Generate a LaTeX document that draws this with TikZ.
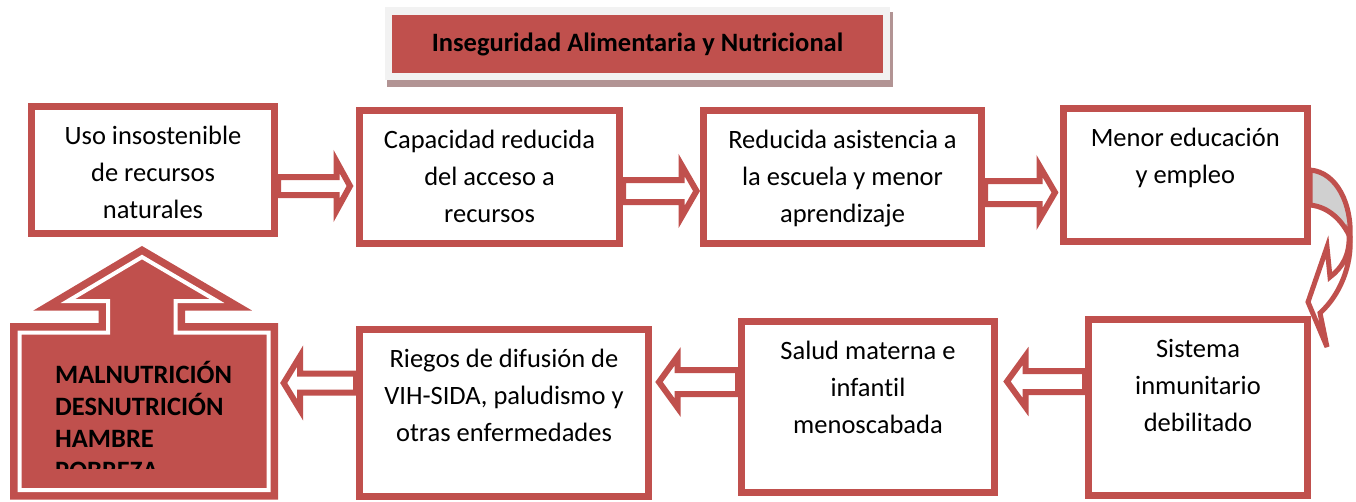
\documentclass[tikz,border=0pt]{standalone}
\usepackage{fontspec}
\setmainfont{Carlito}[Ligatures=NoCommon]
\usetikzlibrary{calc,backgrounds}

\definecolor{boxred}{HTML}{C0504D}
\definecolor{shadowgray}{HTML}{B29494}
\definecolor{framegray}{HTML}{F2F2F2}
\definecolor{backgray}{HTML}{D0D0D0}

\newcommand{\lineas}[1]{\parbox[t]{290pt}{\centering #1}}

% #1 tail, #2 tip, #3 axis (y), #4 shaft half, #5 head half, #6 head length
\newcommand{\blockarrow}[6]{%
  \draw[blockarrow] let \p1=#1, \p2=#2, \p3=(0,#3) in
    (\x1,{\y3+#4pt}) -- ({\x2-(#6pt)},{\y3+#4pt}) -- ({\x2-(#6pt)},{\y3+#5pt}) -- (\x2,\y3)
    -- ({\x2-(#6pt)},{\y3-#5pt}) -- ({\x2-(#6pt)},{\y3-#4pt}) -- (\x1,{\y3-#4pt}) -- cycle;}

\tikzset{
  box/.style={rectangle, draw=boxred, line width=7pt, fill=white, inner sep=0pt},
  boxtext/.style={font=\fontsize{26.5}{37}\selectfont, anchor=base, yshift=-41.5pt, inner sep=0pt},
  blockarrow/.style={draw=boxred, line width=6pt, fill=white, line join=miter},
  titlebox/.style={rectangle, fill=boxred, inner sep=0pt, font=\bfseries\fontsize{26.5}{32}\selectfont},
  curvearrow/.style={draw=boxred, line width=5pt, line join=miter},
}

\begin{document}
\begin{tikzpicture}[x=1pt, y=-1pt]
  \clip (0,0) rectangle (1356,501);

  \fill[shadowgray] (387,12) rectangle (893,87);
  \fill[framegray] (385,7) rectangle (890,80);
  \node (titulo) [titlebox, minimum width=491pt, minimum height=58pt] at (637.5,44) {Inseguridad Alimentaria y Nutricional};

  \node (uso) [box, minimum width=243pt, minimum height=127pt,
    label={[boxtext]north:{\lineas{Uso insostenible\\de recursos\\naturales}}}] at (153,170) {};
  \node (capacidad) [box, minimum width=260pt, minimum height=133pt,
    label={[boxtext]north:{\lineas{Capacidad reducida\\del acceso a\\recursos}}}] at (489.5,176.5) {};
  \node (asistencia) [box, minimum width=278pt, minimum height=133pt,
    label={[boxtext]north:{\lineas{Reducida asistencia a\\la escuela y menor\\aprendizaje}}}] at (842.5,177) {};
  \node (educacion) [box, minimum width=243.5pt, minimum height=133pt,
    label={[boxtext]north:{\lineas{Menor educación\\y empleo}}}] at (1185.25,175) {};
  \node (sistema) [box, minimum width=219pt, minimum height=176pt,
    label={[boxtext]north:{\lineas{Sistema\\inmunitario\\debilitado}}}] at (1198,407.5) {};
  \node (salud) [box, minimum width=253pt, minimum height=170.5pt,
    label={[boxtext]north:{\lineas{Salud materna e\\infantil\\menoscabada}}}] at (868,406.75) {};
  \node (riesgos) [box, minimum width=289pt, minimum height=167pt,
    label={[boxtext]north:{\lineas{Riegos de difusión de\\VIH-SIDA, paludismo y\\otras enfermedades}}}] at (504,413) {};
  \node (malbox) [rectangle, inner sep=0pt, minimum width=249pt, minimum height=157.5pt] at (144,411.25) {};

  \begin{scope}[on background layer]
    \blockarrow{(uso.east)}{([xshift=-6pt]capacidad.west)}{186}{9}{24.5}{13.5}
    \blockarrow{(capacidad.east)}{([xshift=-3.5pt]asistencia.west)}{191}{11}{26}{15}
    \blockarrow{(asistencia.east)}{([xshift=-5pt]educacion.west)}{192.5}{11.5}{26.5}{15.5}
    \blockarrow{(sistema.west)}{([xshift=9pt]salud.east)}{381.5}{10.5}{25.5}{-18.5}
    \blockarrow{(salud.west)}{([xshift=7pt]riesgos.east)}{382}{12}{25.5}{-18.5}
    \blockarrow{(riesgos.west)}{([xshift=15pt]malbox.east)}{383}{9.5}{27}{-16.5}

    \filldraw[curvearrow, fill=backgray] (1310,170) .. controls (1337,172) and (1352,205) .. (1350,237)
      .. controls (1343,222) and (1330,207) .. (1310,205) -- cycle;
    \filldraw[curvearrow, fill=white] (1349,235) .. controls (1350,255) and (1342,268) .. (1330,277)
      -- (1327,247) -- (1308,302) -- (1327,347) -- (1320,313)
      .. controls (1340,295) and (1352,265) .. (1350,237) -- cycle;
  \end{scope}

  \filldraw[draw=boxred, fill=boxred, line width=19pt, line join=miter]
    (19.5,490) -- (19.5,332.5) -- (108,332.5) -- (108,301) -- (68,301) -- (142,257)
    -- (217,301) -- (175.5,301) -- (175.5,332.5) -- (268.5,332.5) -- (268.5,490) -- cycle;
  \draw[white, line width=4pt, line join=miter]
    (19.5,490) -- (19.5,332.5) -- (108,332.5) -- (108,301) -- (68,301) -- (142,257)
    -- (217,301) -- (175.5,301) -- (175.5,332.5) -- (268.5,332.5) -- (268.5,490) -- cycle;
  \begin{scope}
    \clip (0,0) rectangle (300,468);
    \node (malnut) [anchor=base west, inner sep=0pt, font=\bfseries\fontsize{26.5}{32}\selectfont] at (55,383)
      {\parbox[t]{220pt}{MALNUTRICIÓN\\DESNUTRICIÓN\\HAMBRE\\POBREZA}};
  \end{scope}
\end{tikzpicture}
\end{document}
